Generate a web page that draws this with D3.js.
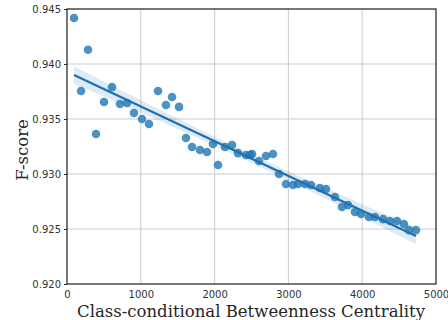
<!DOCTYPE html>
<html><head><meta charset="utf-8">
<script src="https://cdn.jsdelivr.net/npm/d3@7"></script>
<style>body{margin:0;background:#fff}</style>
</head><body>
<svg id="c" width="448" height="320"></svg>
<script>
const xVals = [95,190,285,393,501,610,718,813,908,1016,1111,1233,1341,1423,1518,1612,1694,1802,1897,1978,2046,2141,2236,2317,2425,2480,2507,2602,2696,2791,2873,2967,3062,3130,3225,3306,3428,3510,3631,3726,3808,3902,3984,4092,4173,4282,4377,4472,4566,4634,4729];
const yVals = [0.94418,0.93755,0.9413,0.93364,0.93655,0.9379,0.93636,0.93645,0.93555,0.935,0.93455,0.93755,0.93627,0.937,0.9361,0.93327,0.93245,0.93218,0.932,0.93273,0.93082,0.93245,0.93264,0.9319,0.93173,0.93173,0.93182,0.93118,0.93164,0.93182,0.93,0.92909,0.929,0.92909,0.92909,0.929,0.92873,0.92864,0.92791,0.927,0.92718,0.92655,0.92636,0.92609,0.92609,0.9259,0.92573,0.92573,0.92545,0.9249,0.9249];
const xTicks = [0,1000,2000,3000,4000,5000];
const yTicks = [0.920,0.925,0.930,0.935,0.940,0.945];
const xLabel = "Class-conditional Betweenness Centrality";
const yLabel = "F-score";

const m = {l:67, r:436, t:9, b:284};
const svg = d3.select("#c");
const x = d3.scaleLinear().domain([0,5000]).range([m.l,m.r]);
const y = d3.scaleLinear().domain([0.920,0.945]).range([m.b,m.t]);

// grid
svg.append("g").selectAll("line").data(xTicks.slice(1,-1)).join("line")
  .attr("x1",d=>x(d)).attr("x2",d=>x(d)).attr("y1",m.t).attr("y2",m.b)
  .attr("stroke","#cccccc").attr("stroke-width",1);
svg.append("g").selectAll("line").data(yTicks.slice(1,-1)).join("line")
  .attr("y1",d=>y(d)).attr("y2",d=>y(d)).attr("x1",m.l).attr("x2",m.r)
  .attr("stroke","#cccccc").attr("stroke-width",1);

// regression
const n = xVals.length;
const mx = d3.mean(xVals), my = d3.mean(yVals);
let sxx=0, sxy=0;
for(let i=0;i<n;i++){sxx+=(xVals[i]-mx)**2; sxy+=(xVals[i]-mx)*(yVals[i]-my);}
const b = sxy/sxx, a = my - b*mx;
let sse=0; for(let i=0;i<n;i++){sse+=(yVals[i]-(a+b*xVals[i]))**2;}
const s = Math.sqrt(sse/(n-2));
const tq = 2.01;
const xmin = d3.min(xVals), xmax = d3.max(xVals);
const grid = d3.range(0,101).map(k=>xmin+(xmax-xmin)*k/100);
const band = grid.map(g=>{const se=s*Math.sqrt(1/n+(g-mx)**2/sxx); const f=a+b*g; return {g,lo:f-tq*se,hi:f+tq*se};});
svg.append("path").datum(band)
  .attr("d", d3.area().x(d=>x(d.g)).y0(d=>y(d.lo)).y1(d=>y(d.hi)))
  .attr("fill","#1f77b4").attr("fill-opacity",0.15);

// points
svg.append("g").selectAll("circle").data(d3.range(n)).join("circle")
  .attr("cx",i=>x(xVals[i])).attr("cy",i=>y(yVals[i])).attr("r",4.3)
  .attr("fill","#1f77b4").attr("fill-opacity",0.8);

svg.append("line")
  .attr("x1",x(xmin)).attr("y1",y(a+b*xmin)).attr("x2",x(xmax)).attr("y2",y(a+b*xmax))
  .attr("stroke","#1f6fb0").attr("stroke-width",2.2);

// frame
svg.append("rect").attr("x",m.l).attr("y",m.t).attr("width",m.r-m.l).attr("height",m.b-m.t)
  .attr("fill","none").attr("stroke","#262626").attr("stroke-width",1.25);

// axes
const xa = svg.append("g").attr("transform",`translate(0,${m.b})`)
  .call(d3.axisBottom(x).tickValues(xTicks).tickFormat(d3.format("d")).tickSize(0).tickPadding(7));
const ya = svg.append("g").attr("transform",`translate(${m.l},0)`)
  .call(d3.axisLeft(y).tickValues(yTicks).tickFormat(d3.format(".3f")).tickSize(3).tickPadding(3));
[xa,ya].forEach(g=>{g.select(".domain").remove();
  g.selectAll("text").attr("font-family","DejaVu Sans").attr("font-size",10).attr("fill","#333");
  g.selectAll("line").attr("stroke","#262626");});

svg.append("text").attr("x",251).attr("y",317)
  .attr("text-anchor","middle").attr("font-family","DejaVu Serif").attr("font-size",16.5)
  .attr("fill","#262626").text(xLabel);
svg.append("text").attr("transform",`translate(28,150) rotate(-90)`)
  .attr("text-anchor","middle").attr("font-family","DejaVu Serif").attr("font-size",16.5)
  .attr("fill","#262626").text(yLabel);
</script>
</body></html>
